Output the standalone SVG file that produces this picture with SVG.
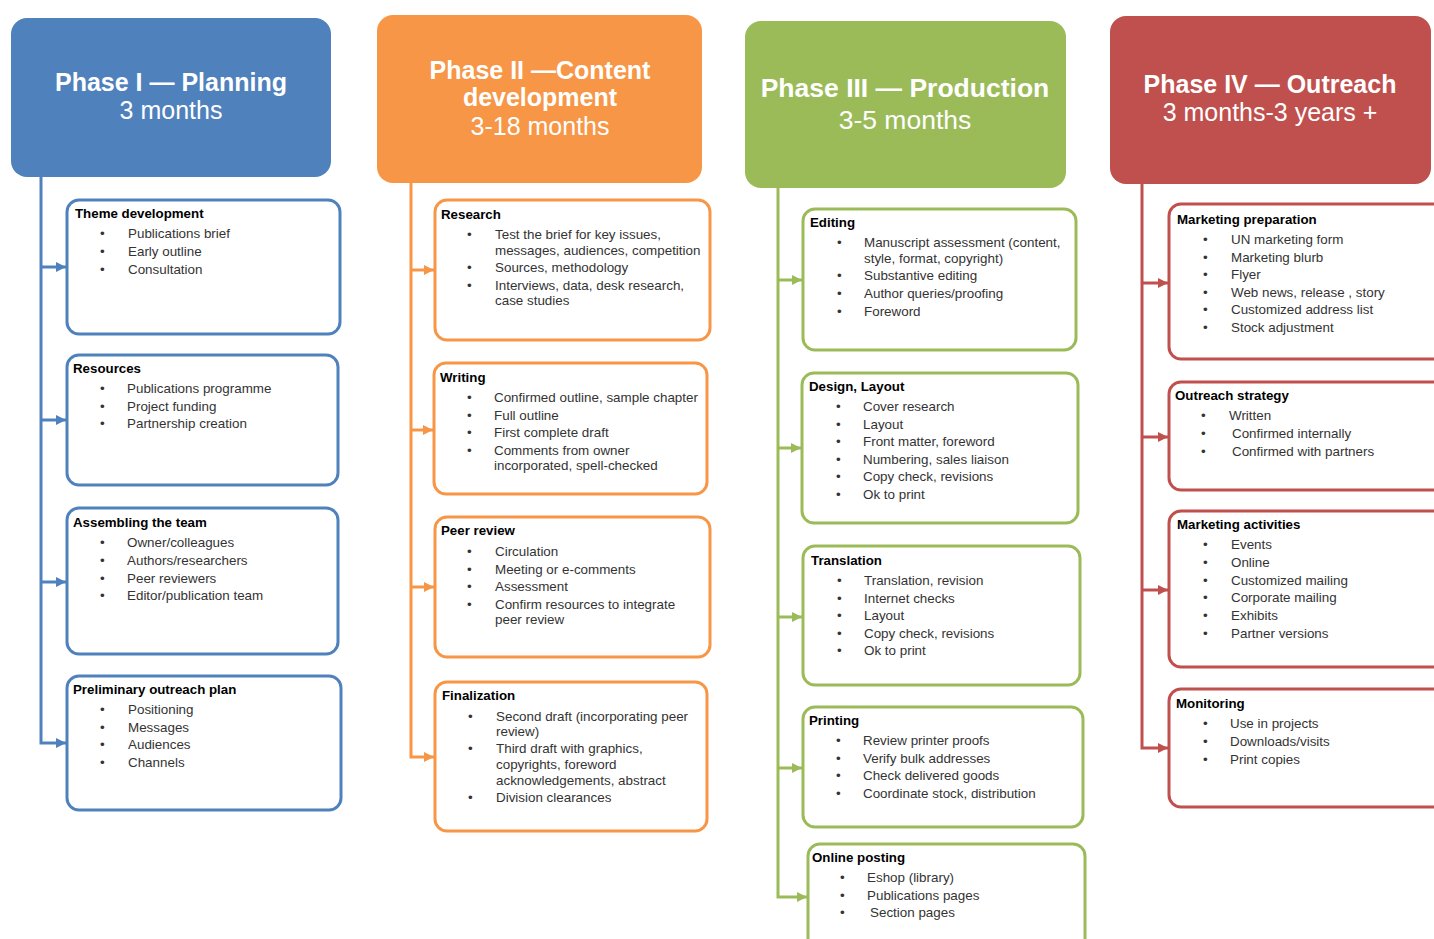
<svg xmlns="http://www.w3.org/2000/svg" width="1434" height="939" viewBox="0 0 1434 939">
<style>
.hd{font-family:"Liberation Sans",Arial,sans-serif;fill:#fff;text-anchor:middle;font-size:25px}
.hb{font-weight:bold}
.t{font-family:"Liberation Sans",Arial,sans-serif;font-weight:bold;font-size:13.3px;fill:#000}
.i{font-family:"Liberation Sans",Arial,sans-serif;font-size:13.4px;fill:#333}
.box{fill:#fff;stroke-width:3}
.bl{stroke:#4F81BD}.or{stroke:#F79646}.gr{stroke:#9BBB59}.rd{stroke:#C0504D}
.ln{fill:none;stroke-width:3}
</style>
<defs>
<marker id="ab" markerUnits="userSpaceOnUse" markerWidth="11" markerHeight="11" refX="10" refY="5.5" orient="auto"><path d="M0,0.5 L10,5.5 L0,10.5 z" fill="#4F81BD"/></marker>
<marker id="ao" markerUnits="userSpaceOnUse" markerWidth="11" markerHeight="11" refX="10" refY="5.5" orient="auto"><path d="M0,0.5 L10,5.5 L0,10.5 z" fill="#F79646"/></marker>
<marker id="ag" markerUnits="userSpaceOnUse" markerWidth="11" markerHeight="11" refX="10" refY="5.5" orient="auto"><path d="M0,0.5 L10,5.5 L0,10.5 z" fill="#9BBB59"/></marker>
<marker id="ar" markerUnits="userSpaceOnUse" markerWidth="11" markerHeight="11" refX="10" refY="5.5" orient="auto"><path d="M0,0.5 L10,5.5 L0,10.5 z" fill="#C0504D"/></marker>
</defs>
<rect width="1434" height="939" fill="#fff"/>

<g id="connectors">
<path class="ln bl" d="M41,177 V743 H66" marker-end="url(#ab)"/>
<path class="ln bl" d="M41,267 H66" marker-end="url(#ab)"/>
<path class="ln bl" d="M41,420 H66" marker-end="url(#ab)"/>
<path class="ln bl" d="M41,582 H66" marker-end="url(#ab)"/>
<path class="ln or" d="M411,183 V757 H434" marker-end="url(#ao)"/>
<path class="ln or" d="M411,270 H434" marker-end="url(#ao)"/>
<path class="ln or" d="M411,430 H433" marker-end="url(#ao)"/>
<path class="ln or" d="M411,587 H434" marker-end="url(#ao)"/>
<path class="ln gr" d="M778,188 V897 H807" marker-end="url(#ag)"/>
<path class="ln gr" d="M778,280 H802" marker-end="url(#ag)"/>
<path class="ln gr" d="M778,448 H801" marker-end="url(#ag)"/>
<path class="ln gr" d="M778,617 H802" marker-end="url(#ag)"/>
<path class="ln gr" d="M778,768 H802" marker-end="url(#ag)"/>
<path class="ln rd" d="M1142,184 V748 H1168" marker-end="url(#ar)"/>
<path class="ln rd" d="M1142,283 H1168" marker-end="url(#ar)"/>
<path class="ln rd" d="M1142,437 H1168" marker-end="url(#ar)"/>
<path class="ln rd" d="M1142,590 H1168" marker-end="url(#ar)"/>
</g>

<g id="phase1">
<rect x="11" y="18" width="320" height="159" rx="16" fill="#4F81BD"/>
<text class="hd hb" x="171" y="91">Phase I  — Planning</text>
<text class="hd" x="171" y="119">3 months</text>
</g>
<g id="phase2">
<rect x="377" y="15" width="325" height="168" rx="16" fill="#F79646"/>
<text class="hd hb" x="540" y="79">Phase II —Content</text>
<text class="hd hb" x="540" y="106">development</text>
<text class="hd" x="540" y="135">3-18 months</text>
</g>
<g id="phase3">
<rect x="745" y="21" width="321" height="167" rx="16" fill="#9BBB59"/>
<text class="hd hb" x="905" y="97" style="font-size:26.5px">Phase III — Production</text>
<text class="hd" x="905" y="129" style="font-size:26.5px">3-5 months</text>
</g>
<g id="phase4">
<rect x="1110" y="16" width="321" height="168" rx="16" fill="#C0504D"/>
<text class="hd hb" x="1270" y="93">Phase IV — Outreach</text>
<text class="hd" x="1270" y="121">3 months-3 years +</text>
</g>

<g id="theme-development">
<rect class="box bl" x="67" y="200" width="273" height="134" rx="12"/>
<text class="t" x="75" y="218">Theme development</text>
<text class="i" x="100" y="238">•</text><text class="i" x="128" y="238">Publications brief</text>
<text class="i" x="100" y="256">•</text><text class="i" x="128" y="256">Early outline</text>
<text class="i" x="100" y="274">•</text><text class="i" x="128" y="274">Consultation</text>
</g>
<g id="resources">
<rect class="box bl" x="67" y="355" width="271" height="130" rx="12"/>
<text class="t" x="73" y="373">Resources</text>
<text class="i" x="100" y="393">•</text><text class="i" x="127" y="393">Publications programme</text>
<text class="i" x="100" y="411">•</text><text class="i" x="127" y="411">Project funding</text>
<text class="i" x="100" y="428">•</text><text class="i" x="127" y="428">Partnership creation</text>
</g>
<g id="assembling-team">
<rect class="box bl" x="67" y="508" width="271" height="146" rx="12"/>
<text class="t" x="73" y="527">Assembling  the team</text>
<text class="i" x="100" y="547">•</text><text class="i" x="127" y="547">Owner/colleagues</text>
<text class="i" x="100" y="565">•</text><text class="i" x="127" y="565">Authors/researchers</text>
<text class="i" x="100" y="583">•</text><text class="i" x="127" y="583">Peer reviewers</text>
<text class="i" x="100" y="600">•</text><text class="i" x="127" y="600">Editor/publication team</text>
</g>
<g id="preliminary-outreach">
<rect class="box bl" x="67" y="676" width="274" height="134" rx="12"/>
<text class="t" x="73" y="694">Preliminary outreach plan</text>
<text class="i" x="100" y="714">•</text><text class="i" x="128" y="714">Positioning</text>
<text class="i" x="100" y="732">•</text><text class="i" x="128" y="732">Messages</text>
<text class="i" x="100" y="749">•</text><text class="i" x="128" y="749">Audiences</text>
<text class="i" x="100" y="767">•</text><text class="i" x="128" y="767">Channels</text>
</g>

<g id="research">
<rect class="box or" x="435" y="200" width="275" height="140" rx="12"/>
<text class="t" x="441" y="219">Research</text>
<text class="i" x="467" y="239">•</text><text class="i" x="495" y="239">Test the brief for key issues,</text>
<text class="i" x="495" y="255">messages, audiences, competition</text>
<text class="i" x="467" y="272">•</text><text class="i" x="495" y="272">Sources, methodology</text>
<text class="i" x="467" y="290">•</text><text class="i" x="495" y="290">Interviews, data, desk research,</text>
<text class="i" x="495" y="305">case studies</text>
</g>
<g id="writing">
<rect class="box or" x="434" y="363" width="273" height="131" rx="12"/>
<text class="t" x="440" y="382">Writing</text>
<text class="i" x="467" y="402">•</text><text class="i" x="494" y="402">Confirmed outline,  sample chapter</text>
<text class="i" x="467" y="420">•</text><text class="i" x="494" y="420">Full outline</text>
<text class="i" x="467" y="437">•</text><text class="i" x="494" y="437">First  complete draft</text>
<text class="i" x="467" y="455">•</text><text class="i" x="494" y="455">Comments from owner</text>
<text class="i" x="494" y="470">incorporated, spell-checked</text>
</g>
<g id="peer-review">
<rect class="box or" x="435" y="517" width="275" height="140" rx="12"/>
<text class="t" x="441" y="535">Peer review</text>
<text class="i" x="467" y="556">•</text><text class="i" x="495" y="556">Circulation</text>
<text class="i" x="467" y="574">•</text><text class="i" x="495" y="574">Meeting  or e-comments</text>
<text class="i" x="467" y="591">•</text><text class="i" x="495" y="591">Assessment</text>
<text class="i" x="467" y="609">•</text><text class="i" x="495" y="609">Confirm resources to integrate</text>
<text class="i" x="495" y="624">peer review</text>
</g>
<g id="finalization">
<rect class="box or" x="435" y="682" width="272" height="149" rx="12"/>
<text class="t" x="442" y="700">Finalization</text>
<text class="i" x="468" y="721">•</text><text class="i" x="496" y="721">Second draft (incorporating peer</text>
<text class="i" x="496" y="736">review)</text>
<text class="i" x="468" y="753">•</text><text class="i" x="496" y="753">Third draft with graphics,</text>
<text class="i" x="496" y="769">copyrights, foreword</text>
<text class="i" x="496" y="785">acknowledgements, abstract</text>
<text class="i" x="468" y="802">•</text><text class="i" x="496" y="802">Division clearances</text>
</g>

<g id="editing">
<rect class="box gr" x="803" y="209" width="273" height="141" rx="12"/>
<text class="t" x="810" y="227">Editing</text>
<text class="i" x="837" y="247">•</text><text class="i" x="864" y="247">Manuscript assessment  (content,</text>
<text class="i" x="864" y="263">style, format, copyright)</text>
<text class="i" x="837" y="280">•</text><text class="i" x="864" y="280">Substantive editing</text>
<text class="i" x="837" y="298">•</text><text class="i" x="864" y="298">Author queries/proofing</text>
<text class="i" x="837" y="316">•</text><text class="i" x="864" y="316">Foreword</text>
</g>
<g id="design-layout">
<rect class="box gr" x="802" y="373" width="276" height="150" rx="12"/>
<text class="t" x="809" y="391">Design, Layout</text>
<text class="i" x="836" y="411">•</text><text class="i" x="863" y="411">Cover research</text>
<text class="i" x="836" y="429">•</text><text class="i" x="863" y="429">Layout</text>
<text class="i" x="836" y="446">•</text><text class="i" x="863" y="446">Front matter, foreword</text>
<text class="i" x="836" y="464">•</text><text class="i" x="863" y="464">Numbering, sales liaison</text>
<text class="i" x="836" y="481">•</text><text class="i" x="863" y="481">Copy check, revisions</text>
<text class="i" x="836" y="499">•</text><text class="i" x="863" y="499">Ok to print</text>
</g>
<g id="translation">
<rect class="box gr" x="803" y="546" width="277" height="139" rx="12"/>
<text class="t" x="811" y="565">Translation</text>
<text class="i" x="837" y="585">•</text><text class="i" x="864" y="585">Translation, revision</text>
<text class="i" x="837" y="603">•</text><text class="i" x="864" y="603">Internet  checks</text>
<text class="i" x="837" y="620">•</text><text class="i" x="864" y="620">Layout</text>
<text class="i" x="837" y="638">•</text><text class="i" x="864" y="638">Copy check, revisions</text>
<text class="i" x="837" y="655">•</text><text class="i" x="864" y="655">Ok to print</text>
</g>
<g id="printing">
<rect class="box gr" x="803" y="707" width="280" height="120" rx="12"/>
<text class="t" x="809" y="725">Printing</text>
<text class="i" x="836" y="745">•</text><text class="i" x="863" y="745">Review printer proofs</text>
<text class="i" x="836" y="763">•</text><text class="i" x="863" y="763">Verify bulk addresses</text>
<text class="i" x="836" y="780">•</text><text class="i" x="863" y="780">Check delivered  goods</text>
<text class="i" x="836" y="798">•</text><text class="i" x="863" y="798">Coordinate stock, distribution</text>
</g>
<g id="online-posting">
<rect class="box gr" x="808" y="844" width="277" height="120" rx="12"/>
<text class="t" x="812" y="862">Online posting</text>
<text class="i" x="840" y="882">•</text><text class="i" x="867" y="882">Eshop (library)</text>
<text class="i" x="840" y="900">•</text><text class="i" x="867" y="900">Publications pages</text>
<text class="i" x="840" y="917">•</text><text class="i" x="870" y="917">Section pages</text>
</g>

<g id="marketing-preparation">
<rect class="box rd" x="1169" y="204" width="285" height="155" rx="12"/>
<text class="t" x="1177" y="224">Marketing preparation</text>
<text class="i" x="1203" y="244">•</text><text class="i" x="1231" y="244">UN marketing form</text>
<text class="i" x="1203" y="262">•</text><text class="i" x="1231" y="262">Marketing  blurb</text>
<text class="i" x="1203" y="279">•</text><text class="i" x="1231" y="279">Flyer</text>
<text class="i" x="1203" y="297">•</text><text class="i" x="1231" y="297">Web news, release , story</text>
<text class="i" x="1203" y="314">•</text><text class="i" x="1231" y="314">Customized address list</text>
<text class="i" x="1203" y="332">•</text><text class="i" x="1231" y="332">Stock adjustment</text>
</g>
<g id="outreach-strategy">
<rect class="box rd" x="1169" y="382" width="285" height="108" rx="12"/>
<text class="t" x="1175" y="400">Outreach strategy</text>
<text class="i" x="1201" y="420">•</text><text class="i" x="1229" y="420">Written</text>
<text class="i" x="1201" y="438">•</text><text class="i" x="1232" y="438">Confirmed internally</text>
<text class="i" x="1201" y="456">•</text><text class="i" x="1232" y="456">Confirmed with partners</text>
</g>
<g id="marketing-activities">
<rect class="box rd" x="1169" y="511" width="285" height="156" rx="12"/>
<text class="t" x="1177" y="529">Marketing activities</text>
<text class="i" x="1203" y="549">•</text><text class="i" x="1231" y="549">Events</text>
<text class="i" x="1203" y="567">•</text><text class="i" x="1231" y="567">Online</text>
<text class="i" x="1203" y="585">•</text><text class="i" x="1231" y="585">Customized mailing</text>
<text class="i" x="1203" y="602">•</text><text class="i" x="1231" y="602">Corporate mailing</text>
<text class="i" x="1203" y="620">•</text><text class="i" x="1231" y="620">Exhibits</text>
<text class="i" x="1203" y="638">•</text><text class="i" x="1231" y="638">Partner versions</text>
</g>
<g id="monitoring">
<rect class="box rd" x="1169" y="689" width="285" height="118" rx="12"/>
<text class="t" x="1176" y="708">Monitoring</text>
<text class="i" x="1203" y="728">•</text><text class="i" x="1230" y="728">Use in projects</text>
<text class="i" x="1203" y="746">•</text><text class="i" x="1230" y="746">Downloads/visits</text>
<text class="i" x="1203" y="764">•</text><text class="i" x="1230" y="764">Print copies</text>
</g>
</svg>
